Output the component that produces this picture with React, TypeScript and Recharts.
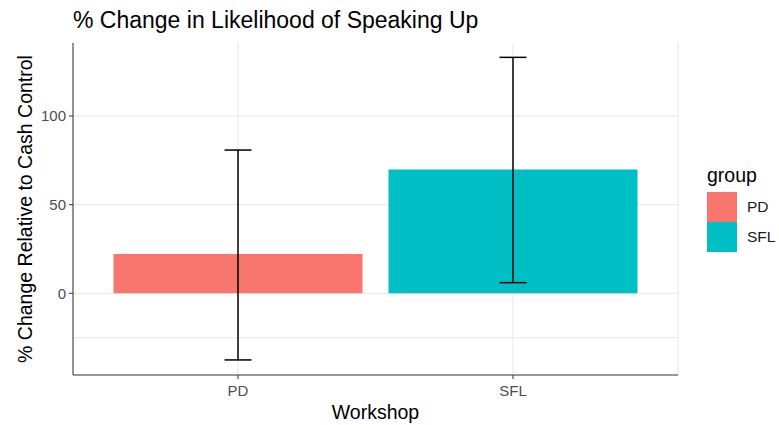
import React from "react";
import {
  ComposedChart,
  Bar,
  Cell,
  ErrorBar,
  XAxis,
  YAxis,
  CartesianGrid,
} from "recharts";

const groups = ["PD", "SFL"];
const pctChange = [22.2, 69.9];
const ciLower = [-37.6, 6.0];
const ciUpper = [80.8, 133.1];
const groupColors = ["#F8766D", "#00BFC4"];
const yTicks = [0, 50, 100];
const yMinorTicks = [-25, 25, 75, 125];
const yDomain: [number, number] = [-46.1, 141.2];

const FONT = '"Liberation Sans", Arial, Helvetica, sans-serif';

const chartData = groups.map((g, i) => ({
  group: g,
  value: pctChange[i],
  // ErrorBar wants [below, above] offsets from the bar value
  err: [pctChange[i] - ciLower[i], ciUpper[i] - pctChange[i]],
}));

const YTitle = ({ viewBox }: any) => {
  const cx = 25;
  const cy = viewBox.y + viewBox.height / 2;
  return (
    <text
      x={cx}
      y={cy}
      transform={`rotate(-90 ${cx} ${cy})`}
      textAnchor="middle"
      dominantBaseline="central"
      fontSize={19.5}
      fill="#000"
      fontFamily={FONT}
    >
      % Change Relative to Cash Control
    </text>
  );
};

const XTitle = ({ viewBox }: any) => (
  <text
    x={viewBox.x + viewBox.width / 2}
    y={411.5}
    textAnchor="middle"
    dominantBaseline="central"
    fontSize={19.5}
    fill="#000"
    fontFamily={FONT}
  >
    Workshop
  </text>
);

export default function App() {
  return (
    <div
      style={{
        position: "absolute",
        left: 0,
        top: 0,
        width: 779,
        height: 425,
        background: "#fff",
        fontFamily: FONT,
      }}
    >
      <div
        style={{
          position: "absolute",
          left: 73,
          top: 6.5,
          fontSize: 23,
          lineHeight: "normal",
          color: "#000",
          whiteSpace: "nowrap",
        }}
      >
        % Change in Likelihood of Speaking Up
      </div>

      <ComposedChart
        width={779}
        height={425}
        data={chartData}
        margin={{ top: 43, right: 101, bottom: 0, left: 0 }}
      >
        <CartesianGrid
          stroke="#EBEBEB"
          strokeWidth={1.2}
          horizontalValues={[...yMinorTicks, ...yTicks]}
        />
        <XAxis
          dataKey="group"
          height={50}
          padding={{ left: 27.5, right: 27.5 }}
          tickSize={4}
          tickMargin={6}
          tick={{ fontSize: 15, fill: "#4D4D4D", fontFamily: FONT }}
          tickLine={{ stroke: "#333333" }}
          axisLine={{ stroke: "#333333" }}
          label={<XTitle />}
        />
        <XAxis
          xAxisId="top"
          dataKey="group"
          orientation="top"
          height={0}
          tick={false}
          tickLine={false}
          axisLine={{ stroke: "#333333" }}
        />
        <YAxis
          type="number"
          width={73}
          domain={yDomain}
          ticks={yTicks}
          allowDataOverflow
          tickSize={4}
          tickMargin={3}
          tick={{ fontSize: 15, fill: "#4D4D4D", fontFamily: FONT }}
          tickLine={{ stroke: "#333333" }}
          axisLine={{ stroke: "#333333" }}
          label={<YTitle />}
        />
        <YAxis
          yAxisId="right"
          orientation="right"
          width={0}
          domain={yDomain}
          tick={false}
          tickLine={false}
          axisLine={{ stroke: "#333333" }}
        />
        <Bar dataKey="value" barSize={249} isAnimationActive={false}>
          {chartData.map((d, i) => (
            <Cell key={d.group} fill={groupColors[i]} />
          ))}
          <ErrorBar
            dataKey="err"
            width={13.5}
            stroke="#000"
            strokeWidth={1.5}
            isAnimationActive={false}
          />
        </Bar>
      </ComposedChart>

      {/* legend */}
      <div style={{ position: "absolute", left: 707, top: 163 }}>
        <div style={{ fontSize: 19.5, color: "#000", lineHeight: "24px", marginBottom: 5 }}>
          group
        </div>
        {groups.map((g, i) => (
          <div key={g} style={{ display: "flex", alignItems: "center", height: 30 }}>
            <div style={{ width: 30, height: 30, background: groupColors[i] }} />
            <span style={{ marginLeft: 10, fontSize: 15.5, color: "#1A1A1A" }}>{g}</span>
          </div>
        ))}
      </div>
    </div>
  );
}
